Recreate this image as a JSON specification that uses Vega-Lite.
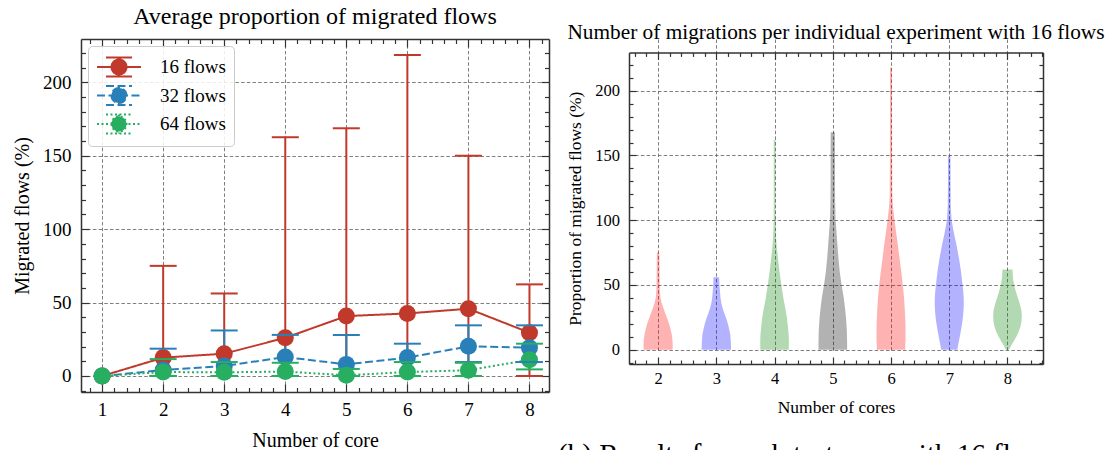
{
  "$schema": "https://vega.github.io/schema/vega-lite/v6.json",
  "background": "white",
  "padding": {"left": 12, "top": 5, "right": 0, "bottom": 0},
  "spacing": 16,
  "resolve": {"scale": {"color": "independent"}, "legend": {"color": "independent"}},
  "title": {
    "text": "(b) Results for each test case with 16 flows",
    "orient": "bottom",
    "anchor": "start",
    "fontSize": 29,
    "baseline": "alphabetic",
    "offset": 14,
    "dx": 546
  },
  "config": {
    "font": "Liberation Serif",
    "view": {"stroke": null},
    "title": {"font": "Liberation Serif", "fontWeight": "normal", "color": "black"},
    "axis": {
      "labelFont": "Liberation Serif",
      "titleFont": "Liberation Serif",
      "labelColor": "black",
      "titleColor": "black",
      "titleFontWeight": "normal",
      "domain": true,
      "domainColor": "#333333",
      "domainWidth": 1.5,
      "tickColor": "#333333",
      "tickWidth": 1.2,
      "gridColor": "#707070",
      "gridDash": [3.5, 2.2],
      "gridWidth": 0.9,
      "labelOverlap": false,
      "labelFlush": false,
      "labelBound": false
    },
    "legend": {"labelFont": "Liberation Serif", "labelColor": "black"}
  },
  "hconcat": [
    {
      "width": 468,
      "height": 353,
      "title": {"text": "Average proportion of migrated flows", "fontSize": 24, "baseline": "alphabetic", "offset": -9.7},
      "data": {
        "values": [
          {"core": 1, "series": "16 flows", "mean": 0, "lo": null, "hi": null},
          {"core": 2, "series": "16 flows", "mean": 12.5, "lo": 0, "hi": 75},
          {"core": 3, "series": "16 flows", "mean": 15.2, "lo": 0, "hi": 56.2},
          {"core": 4, "series": "16 flows", "mean": 26, "lo": 0, "hi": 162.6},
          {"core": 5, "series": "16 flows", "mean": 40.8, "lo": 0, "hi": 168.7},
          {"core": 6, "series": "16 flows", "mean": 42.6, "lo": 0, "hi": 218.6},
          {"core": 7, "series": "16 flows", "mean": 45.8, "lo": 0, "hi": 150},
          {"core": 8, "series": "16 flows", "mean": 29.5, "lo": 0, "hi": 62.4},
          {"core": 1, "series": "32 flows", "mean": 0, "lo": null, "hi": null},
          {"core": 2, "series": "32 flows", "mean": 4, "lo": 0, "hi": 18.6},
          {"core": 3, "series": "32 flows", "mean": 6.8, "lo": 0, "hi": 31},
          {"core": 4, "series": "32 flows", "mean": 12.9, "lo": 0, "hi": 28},
          {"core": 5, "series": "32 flows", "mean": 7.9, "lo": 0, "hi": 27.9},
          {"core": 6, "series": "32 flows", "mean": 12.5, "lo": 0, "hi": 22},
          {"core": 7, "series": "32 flows", "mean": 20.2, "lo": 9.5, "hi": 34.5},
          {"core": 8, "series": "32 flows", "mean": 19.3, "lo": 9.5, "hi": 34.5},
          {"core": 1, "series": "64 flows", "mean": 0, "lo": null, "hi": null},
          {"core": 2, "series": "64 flows", "mean": 2.7, "lo": 0, "hi": 11.5},
          {"core": 3, "series": "64 flows", "mean": 2.5, "lo": 0, "hi": 9.5},
          {"core": 4, "series": "64 flows", "mean": 3, "lo": 0, "hi": 9},
          {"core": 5, "series": "64 flows", "mean": 0.5, "lo": 0, "hi": 4.8},
          {"core": 6, "series": "64 flows", "mean": 2.7, "lo": 0, "hi": 9.5},
          {"core": 7, "series": "64 flows", "mean": 3.9, "lo": 0, "hi": 9},
          {"core": 8, "series": "64 flows", "mean": 11, "lo": 4.5, "hi": 22}
        ]
      },
      "resolve": {"axis": {"x": "independent", "y": "independent"}},
      "layer": [
        {
          "mark": {"type": "rule", "strokeWidth": 2},
          "encoding": {
            "x": {"field": "core", "type": "quantitative", "scale": {"domain": [0.654, 8.32], "nice": false, "zero": false},
              "axis": {
                "orient": "bottom",
                "values": [0.8, 1, 1.2, 1.4, 1.6, 1.8, 2, 2.2, 2.4, 2.6, 2.8, 3, 3.2, 3.4, 3.6, 3.8, 4, 4.2, 4.4, 4.6, 4.8, 5, 5.2, 5.4, 5.6, 5.8, 6, 6.2, 6.4, 6.6, 6.8, 7, 7.2, 7.4, 7.6, 7.8, 8, 8.2],
                "title": "Number of core", "titleFontSize": 20, "titlePadding": 7.6,
                "labelFontSize": 19, "labelPadding": 16,
                "labelExpr": "abs(datum.value - round(datum.value)) < 0.001 ? format(datum.value, 'd') : ''",
                "tickSize": {"condition": {"test": "abs(datum.value - round(datum.value)) < 0.001", "value": -8}, "value": -4.5},
                "grid": true,
                "gridOpacity": {"condition": {"test": "abs(datum.value - round(datum.value)) < 0.001", "value": 1}, "value": 0}
              }},
            "y": {"field": "lo", "type": "quantitative", "scale": {"domain": [-10.9, 229.5], "nice": false, "zero": false},
              "axis": {
                "orient": "left",
                "values": [-10, 0, 10, 20, 30, 40, 50, 60, 70, 80, 90, 100, 110, 120, 130, 140, 150, 160, 170, 180, 190, 200, 210, 220],
                "title": "Migrated flows (%)", "titleFontSize": 20, "titlePadding": 10.4,
                "labelFontSize": 19, "labelPadding": 18,
                "labelExpr": "datum.value % 50 === 0 ? format(datum.value, 'd') : ''",
                "tickSize": {"condition": {"test": "datum.value % 50 === 0", "value": -8}, "value": -4.5},
                "grid": true,
                "gridOpacity": {"condition": {"test": "datum.value % 50 === 0", "value": 1}, "value": 0}
              }},
            "y2": {"field": "hi"},
            "color": {"field": "series", "type": "nominal", "scale": {"domain": ["16 flows", "32 flows", "64 flows"], "range": ["#c0392b", "#2980b9", "#27ae60"]}}
          }
        },
        {
          "mark": {"type": "line", "strokeWidth": 2},
          "encoding": {
            "x": {"field": "core", "type": "quantitative", "scale": {"domain": [0.654, 8.32], "nice": false, "zero": false}, "axis": null},
            "y": {"field": "mean", "type": "quantitative", "scale": {"domain": [-10.9, 229.5], "nice": false, "zero": false}, "axis": null},
            "color": {"field": "series", "type": "nominal", "scale": {"domain": ["16 flows", "32 flows", "64 flows"], "range": ["#c0392b", "#2980b9", "#27ae60"]}},
            "strokeDash": {"field": "series", "type": "nominal", "scale": {"domain": ["16 flows", "32 flows", "64 flows"], "range": [[1, 0], [8, 3.5], [2, 2.5]]}, "legend": null}
          }
        },
        {
          "mark": {"type": "point", "filled": true, "size": 290, "opacity": 1},
          "encoding": {
            "x": {"field": "core", "type": "quantitative", "scale": {"domain": [0.654, 8.32], "nice": false, "zero": false}, "axis": null},
            "y": {"field": "mean", "type": "quantitative", "scale": {"domain": [-10.9, 229.5], "nice": false, "zero": false}, "axis": null},
            "color": {"field": "series", "type": "nominal", "scale": {"domain": ["16 flows", "32 flows", "64 flows"], "range": ["#c0392b", "#2980b9", "#27ae60"]},
              "legend": {
                "title": null, "orient": "top-left", "offset": 7,
                "symbolType": "M-1,0H2.667M-0.25,-0.79H1.917M-0.25,0.79H1.917M0.833,-0.79V0.79M0.208,0A0.625,0.625,0,1,0,1.458,0A0.625,0.625,0,1,0,0.208,0Z",
                "symbolSize": 576, "symbolStrokeWidth": 2, "symbolOpacity": 1,
                "labelFontSize": 19, "labelOffset": 38, "padding": 8, "rowPadding": 0.5,
                "fillColor": "rgba(255,255,255,0.85)", "strokeColor": "#cccccc", "cornerRadius": 4,
                "encode": {"symbols": {"update": {
                  "fill": {"signal": "datum.value === '16 flows' ? '#c0392b' : datum.value === '32 flows' ? '#2980b9' : '#27ae60'"},
                  "stroke": {"signal": "datum.value === '16 flows' ? '#c0392b' : datum.value === '32 flows' ? '#2980b9' : '#27ae60'"},
                  "strokeDash": {"signal": "datum.value === '32 flows' ? [8, 3.5] : datum.value === '64 flows' ? [2, 2.5] : [1, 0]"}
                }}}
              }}
          }
        },
        {
          "mark": {"type": "tick", "orient": "horizontal", "size": 27, "thickness": 2, "opacity": 1},
          "encoding": {
            "x": {"field": "core", "type": "quantitative", "scale": {"domain": [0.654, 8.32], "nice": false, "zero": false}, "axis": null},
            "y": {"field": "lo", "type": "quantitative", "scale": {"domain": [-10.9, 229.5], "nice": false, "zero": false}, "axis": null},
            "color": {"field": "series", "type": "nominal", "scale": {"domain": ["16 flows", "32 flows", "64 flows"], "range": ["#c0392b", "#2980b9", "#27ae60"]}}
          }
        },
        {
          "mark": {"type": "tick", "orient": "horizontal", "size": 27, "thickness": 2, "opacity": 1},
          "encoding": {
            "x": {"field": "core", "type": "quantitative", "scale": {"domain": [0.654, 8.32], "nice": false, "zero": false},
              "axis": {
                "orient": "top", "labels": false, "title": null, "grid": false,
                "values": [0.8, 1, 1.2, 1.4, 1.6, 1.8, 2, 2.2, 2.4, 2.6, 2.8, 3, 3.2, 3.4, 3.6, 3.8, 4, 4.2, 4.4, 4.6, 4.8, 5, 5.2, 5.4, 5.6, 5.8, 6, 6.2, 6.4, 6.6, 6.8, 7, 7.2, 7.4, 7.6, 7.8, 8, 8.2],
                "tickSize": {"condition": {"test": "abs(datum.value - round(datum.value)) < 0.001", "value": -8}, "value": -4.5}
              }},
            "y": {"field": "hi", "type": "quantitative", "scale": {"domain": [-10.9, 229.5], "nice": false, "zero": false},
              "axis": {
                "orient": "right", "labels": false, "title": null, "grid": false,
                "values": [-10, 0, 10, 20, 30, 40, 50, 60, 70, 80, 90, 100, 110, 120, 130, 140, 150, 160, 170, 180, 190, 200, 210, 220],
                "tickSize": {"condition": {"test": "datum.value % 50 === 0", "value": -8}, "value": -4.5}
              }},
            "color": {"field": "series", "type": "nominal", "scale": {"domain": ["16 flows", "32 flows", "64 flows"], "range": ["#c0392b", "#2980b9", "#27ae60"]}}
          }
        }
      ]
    },
    {
      "width": 414,
      "height": 325,
      "title": {"text": "Number of migrations per individual experiment with 16 flows", "fontSize": 21.3, "baseline": "alphabetic", "offset": -21},
      "data": {
        "values": [
          {"core": 2, "v": 0, "w": 0.248}, {"core": 2, "v": 4, "w": 0.251}, {"core": 2, "v": 8, "w": 0.246}, {"core": 2, "v": 12, "w": 0.234},
          {"core": 2, "v": 16, "w": 0.213}, {"core": 2, "v": 20, "w": 0.188}, {"core": 2, "v": 24, "w": 0.158}, {"core": 2, "v": 28, "w": 0.124},
          {"core": 2, "v": 32, "w": 0.091}, {"core": 2, "v": 36, "w": 0.062}, {"core": 2, "v": 40, "w": 0.041}, {"core": 2, "v": 45, "w": 0.031},
          {"core": 2, "v": 55, "w": 0.026}, {"core": 2, "v": 65, "w": 0.024}, {"core": 2, "v": 75, "w": 0.022},

          {"core": 3, "v": 0, "w": 0.253}, {"core": 3, "v": 4, "w": 0.251}, {"core": 3, "v": 8, "w": 0.246}, {"core": 3, "v": 12, "w": 0.239},
          {"core": 3, "v": 16, "w": 0.220}, {"core": 3, "v": 20, "w": 0.198}, {"core": 3, "v": 24, "w": 0.172}, {"core": 3, "v": 28, "w": 0.138},
          {"core": 3, "v": 32, "w": 0.108}, {"core": 3, "v": 36, "w": 0.086}, {"core": 3, "v": 40, "w": 0.072}, {"core": 3, "v": 45, "w": 0.062},
          {"core": 3, "v": 50, "w": 0.053}, {"core": 3, "v": 56, "w": 0.048},

          {"core": 4, "v": 0, "w": 0.244}, {"core": 4, "v": 5, "w": 0.246}, {"core": 4, "v": 10, "w": 0.244}, {"core": 4, "v": 15, "w": 0.236},
          {"core": 4, "v": 20, "w": 0.224}, {"core": 4, "v": 25, "w": 0.212}, {"core": 4, "v": 30, "w": 0.193}, {"core": 4, "v": 35, "w": 0.172},
          {"core": 4, "v": 40, "w": 0.151}, {"core": 4, "v": 50, "w": 0.117}, {"core": 4, "v": 60, "w": 0.086}, {"core": 4, "v": 70, "w": 0.059},
          {"core": 4, "v": 80, "w": 0.036}, {"core": 4, "v": 90, "w": 0.022}, {"core": 4, "v": 100, "w": 0.015}, {"core": 4, "v": 130, "w": 0.014},
          {"core": 4, "v": 162, "w": 0.014},

          {"core": 5, "v": 0, "w": 0.246}, {"core": 5, "v": 5, "w": 0.246}, {"core": 5, "v": 10, "w": 0.244}, {"core": 5, "v": 15, "w": 0.241},
          {"core": 5, "v": 20, "w": 0.234}, {"core": 5, "v": 25, "w": 0.227}, {"core": 5, "v": 30, "w": 0.215}, {"core": 5, "v": 35, "w": 0.203},
          {"core": 5, "v": 40, "w": 0.189}, {"core": 5, "v": 50, "w": 0.151}, {"core": 5, "v": 60, "w": 0.120}, {"core": 5, "v": 70, "w": 0.098},
          {"core": 5, "v": 80, "w": 0.081}, {"core": 5, "v": 90, "w": 0.065}, {"core": 5, "v": 100, "w": 0.048}, {"core": 5, "v": 115, "w": 0.040},
          {"core": 5, "v": 130, "w": 0.038}, {"core": 5, "v": 150, "w": 0.038}, {"core": 5, "v": 168, "w": 0.036},

          {"core": 6, "v": 0, "w": 0.244}, {"core": 6, "v": 10, "w": 0.250}, {"core": 6, "v": 20, "w": 0.248}, {"core": 6, "v": 30, "w": 0.238},
          {"core": 6, "v": 40, "w": 0.224}, {"core": 6, "v": 50, "w": 0.203}, {"core": 6, "v": 60, "w": 0.177}, {"core": 6, "v": 70, "w": 0.148},
          {"core": 6, "v": 80, "w": 0.120}, {"core": 6, "v": 90, "w": 0.090}, {"core": 6, "v": 100, "w": 0.060}, {"core": 6, "v": 110, "w": 0.034},
          {"core": 6, "v": 120, "w": 0.022}, {"core": 6, "v": 150, "w": 0.019}, {"core": 6, "v": 180, "w": 0.017}, {"core": 6, "v": 218, "w": 0.017},

          {"core": 7, "v": 0, "w": 0.138}, {"core": 7, "v": 5, "w": 0.158}, {"core": 7, "v": 10, "w": 0.181}, {"core": 7, "v": 15, "w": 0.201},
          {"core": 7, "v": 20, "w": 0.220}, {"core": 7, "v": 25, "w": 0.234}, {"core": 7, "v": 30, "w": 0.244}, {"core": 7, "v": 35, "w": 0.250},
          {"core": 7, "v": 40, "w": 0.248}, {"core": 7, "v": 45, "w": 0.241}, {"core": 7, "v": 50, "w": 0.229}, {"core": 7, "v": 60, "w": 0.203},
          {"core": 7, "v": 70, "w": 0.169}, {"core": 7, "v": 80, "w": 0.129}, {"core": 7, "v": 90, "w": 0.081}, {"core": 7, "v": 100, "w": 0.040},
          {"core": 7, "v": 110, "w": 0.026}, {"core": 7, "v": 130, "w": 0.022}, {"core": 7, "v": 150, "w": 0.021},

          {"core": 8, "v": 0, "w": 0.029}, {"core": 8, "v": 3, "w": 0.060}, {"core": 8, "v": 6, "w": 0.100}, {"core": 8, "v": 10, "w": 0.151},
          {"core": 8, "v": 14, "w": 0.194}, {"core": 8, "v": 18, "w": 0.224}, {"core": 8, "v": 22, "w": 0.241}, {"core": 8, "v": 26, "w": 0.246},
          {"core": 8, "v": 30, "w": 0.241}, {"core": 8, "v": 34, "w": 0.220}, {"core": 8, "v": 38, "w": 0.194}, {"core": 8, "v": 42, "w": 0.164},
          {"core": 8, "v": 46, "w": 0.138}, {"core": 8, "v": 50, "w": 0.115}, {"core": 8, "v": 55, "w": 0.095}, {"core": 8, "v": 62, "w": 0.086}
        ]
      },
      "transform": [
        {"calculate": "datum.core - datum.w", "as": "left"},
        {"calculate": "datum.core + datum.w", "as": "right"}
      ],
      "resolve": {"axis": {"x": "independent", "y": "independent"}},
      "layer": [
        {
          "mark": {"type": "area", "orient": "horizontal", "fillOpacity": 0.3, "strokeWidth": 0},
          "encoding": {
            "y": {"field": "v", "type": "quantitative", "scale": {"domain": [-11, 229.6], "range": [325, 13.4], "nice": false, "zero": false},
              "axis": {
                "orient": "left",
                "values": [-10, 0, 10, 20, 30, 40, 50, 60, 70, 80, 90, 100, 110, 120, 130, 140, 150, 160, 170, 180, 190, 200, 210, 220],
                "title": "Proportion of migrated flows (%)", "titleFontSize": 17.5, "titlePadding": 10.5,
                "labelFontSize": 16.5, "labelPadding": 16.5,
                "labelExpr": "datum.value % 50 === 0 ? format(datum.value, 'd') : ''",
                "tickSize": {"condition": {"test": "datum.value % 50 === 0", "value": -7}, "value": -4},
                "grid": true,
                "gridOpacity": {"condition": {"test": "datum.value % 50 === 0", "value": 1}, "value": 0}
              }},
            "x": {"field": "left", "type": "quantitative", "stack": null, "scale": {"domain": [1.5, 8.61], "nice": false, "zero": false},
              "axis": {
                "orient": "bottom",
                "values": [1.6, 1.8, 2, 2.2, 2.4, 2.6, 2.8, 3, 3.2, 3.4, 3.6, 3.8, 4, 4.2, 4.4, 4.6, 4.8, 5, 5.2, 5.4, 5.6, 5.8, 6, 6.2, 6.4, 6.6, 6.8, 7, 7.2, 7.4, 7.6, 7.8, 8, 8.2, 8.4, 8.6],
                "title": "Number of cores", "titleFontSize": 17.5, "titlePadding": 8.3,
                "labelFontSize": 16.5, "labelPadding": 13.8,
                "labelExpr": "abs(datum.value - round(datum.value)) < 0.001 ? format(datum.value, 'd') : ''",
                "tickSize": {"condition": {"test": "abs(datum.value - round(datum.value)) < 0.001", "value": -7}, "value": -4},
                "grid": true,
                "gridOpacity": {"condition": {"test": "abs(datum.value - round(datum.value)) < 0.001", "value": 1}, "value": 0}
              }},
            "x2": {"field": "right"},
            "color": {"field": "core", "type": "nominal",
              "scale": {"domain": [2, 3, 4, 5, 6, 7, 8], "range": ["#ff0000", "#0000ff", "#008000", "#000000", "#ff0000", "#0000ff", "#008000"]},
              "legend": null}
          }
        },
        {
          "mark": {"type": "point", "opacity": 0},
          "encoding": {
            "y": {"field": "v", "type": "quantitative", "scale": {"domain": [-11, 229.6], "range": [325, 13.4], "nice": false, "zero": false},
              "axis": {
                "orient": "right", "labels": false, "title": null, "grid": false,
                "values": [-10, 0, 10, 20, 30, 40, 50, 60, 70, 80, 90, 100, 110, 120, 130, 140, 150, 160, 170, 180, 190, 200, 210, 220],
                "tickSize": {"condition": {"test": "datum.value % 50 === 0", "value": -7}, "value": -4}
              }},
            "x": {"field": "core", "type": "quantitative", "scale": {"domain": [1.5, 8.61], "nice": false, "zero": false},
              "axis": {
                "orient": "top", "offset": -13.4, "labels": false, "title": null, "grid": false,
                "values": [1.6, 1.8, 2, 2.2, 2.4, 2.6, 2.8, 3, 3.2, 3.4, 3.6, 3.8, 4, 4.2, 4.4, 4.6, 4.8, 5, 5.2, 5.4, 5.6, 5.8, 6, 6.2, 6.4, 6.6, 6.8, 7, 7.2, 7.4, 7.6, 7.8, 8, 8.2, 8.4, 8.6],
                "tickSize": {"condition": {"test": "abs(datum.value - round(datum.value)) < 0.001", "value": -7}, "value": -4}
              }}
          }
        }
      ]
    }
  ]
}
